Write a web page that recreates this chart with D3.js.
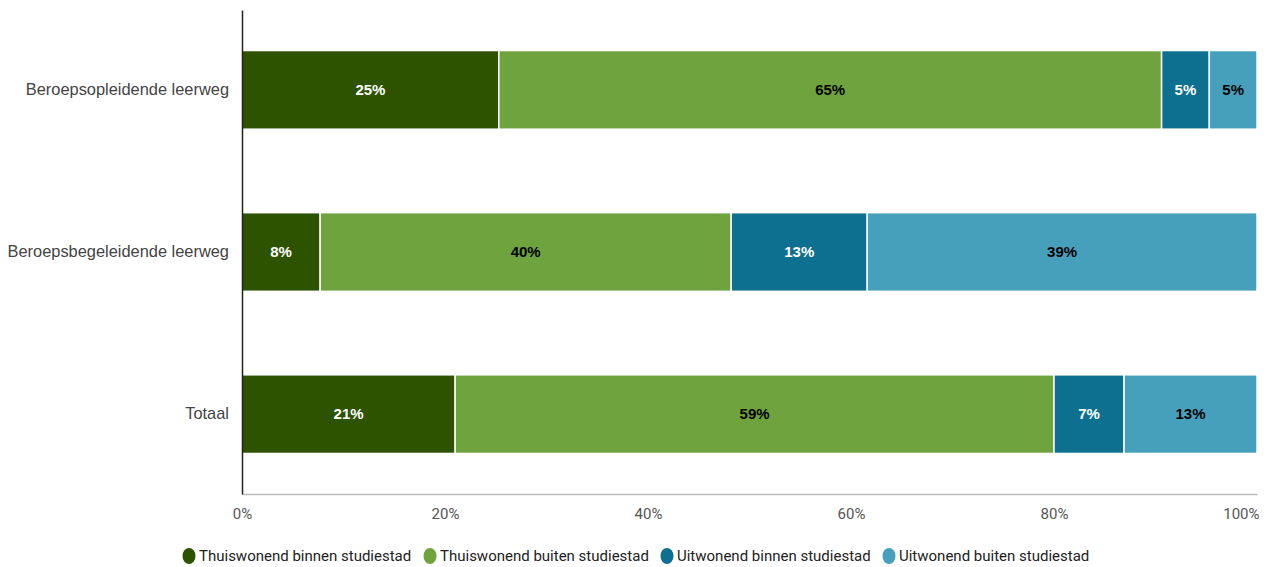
<!DOCTYPE html>
<html>
<head>
<meta charset="utf-8">
<script src="https://cdn.jsdelivr.net/npm/d3@7"></script>
<style>
  body { margin: 0; background: #fff; }
  svg { display: block; }
</style>
</head>
<body>
<div id="chart"></div>
<script>
// data
var categories = ["Beroepsopleidende leerweg", "Beroepsbegeleidende leerweg", "Totaal"];
var seriesNames = ["Thuiswonend binnen studiestad", "Thuiswonend buiten studiestad", "Uitwonend binnen studiestad", "Uitwonend buiten studiestad"];
var thuisBinnen = [25.3, 7.7, 21.0];
var thuisBuiten = [65.3, 40.5, 59.0];
var uitBinnen = [4.7, 13.4, 6.9];
var uitBuiten = [4.7, 38.4, 13.1];
var labelValues = [[25, 65, 5, 5], [8, 40, 13, 39], [21, 59, 7, 13]];
var xTicks = [0, 20, 40, 60, 80, 100];

var colors = ["#2d5300", "#6ea33e", "#0e7090", "#47a0bb"];
var textColors = ["#fff", "#000", "#fff", "#000"];

var margin = {top: 10, right: 13, bottom: 73, left: 242},
    width = 1270 - margin.left - margin.right,
    height = 567 - margin.top - margin.bottom;

var svg = d3.select("#chart")
  .append("svg")
    .attr("width", 1270)
    .attr("height", 567)
  .append("g")
    .attr("transform", "translate(" + margin.left + "," + margin.top + ")");

// build table for stacking
var table = categories.map(function(c, i) {
  return {cat: c, idx: i, s0: thuisBinnen[i], s1: thuisBuiten[i], s2: uitBinnen[i], s3: uitBuiten[i]};
});
var stack = d3.stack().keys(["s0", "s1", "s2", "s3"]);
var series = stack(table);

var x = d3.scaleLinear().domain([0, 100]).range([0, width]);
var y = d3.scaleBand().domain(categories).range([0, height]).paddingInner(0.515).paddingOuter(0.25);

// bars
series.forEach(function(s, si) {
  var g = svg.append("g");
  g.selectAll("rect")
    .data(s)
    .enter()
    .append("rect")
      .attr("x", function(d) { return x(d[0]); })
      .attr("y", function(d) { return y(d.data.cat); })
      .attr("width", function(d) { return x(d[1]) - x(d[0]); })
      .attr("height", y.bandwidth())
      .attr("fill", colors[si])
      .attr("stroke", "#fff")
      .attr("stroke-width", 1.5);
  g.selectAll("text")
    .data(s)
    .enter()
    .append("text")
      .attr("x", function(d) { return (x(d[0]) + x(d[1])) / 2; })
      .attr("y", function(d) { return y(d.data.cat) + y.bandwidth() / 2; })
      .attr("dy", "0.35em")
      .attr("text-anchor", "middle")
      .style("font-family", "Liberation Sans, Arial, sans-serif")
      .style("font-size", "15px")
      .style("font-weight", "bold")
      .attr("fill", textColors[si])
      .text(function(d) { return labelValues[d.data.idx][si] + "%"; });
});

// x axis
var xAxis = svg.append("g")
  .attr("transform", "translate(0," + height + ")")
  .call(d3.axisBottom(x).tickValues(xTicks).tickSize(0).tickPadding(14).tickFormat(function(d) { return d + "%"; }));
xAxis.select(".domain").attr("stroke", "#bbb").attr("stroke-width", 1.5);
xAxis.selectAll("text")
  .style("font-family", "Roboto, sans-serif")
  .style("font-size", "15px")
  .attr("fill", "#555");
xAxis.selectAll(".tick").filter(function(d) { return d === 100; })
  .select("text").attr("text-anchor", "end").attr("x", 2);

// y axis
var yAxis = svg.append("g")
  .call(d3.axisLeft(y).tickSize(0).tickPadding(13));
yAxis.select(".domain").attr("stroke", "#222").attr("stroke-width", 1.5);
yAxis.selectAll("text")
  .style("font-family", "Liberation Sans, Arial, sans-serif")
  .style("font-size", "16.4px")
  .attr("fill", "#444");

// legend
var legend = d3.select("svg").append("g")
  .attr("transform", "translate(0,556)");
var lx = [181, 422, 659, 881];
seriesNames.forEach(function(n, i) {
  var item = legend.append("g").attr("transform", "translate(" + lx[i] + ",0)");
  item.append("ellipse")
    .attr("cx", 8).attr("cy", 0).attr("rx", 6.5).attr("ry", 8)
    .attr("fill", colors[i]);
  item.append("text")
    .attr("x", 18).attr("y", 0).attr("dy", "0.35em")
    .style("font-family", "Roboto, sans-serif")
    .style("font-size", "15px")
    .attr("fill", "#222")
    .text(n);
});
</script>
</body>
</html>
